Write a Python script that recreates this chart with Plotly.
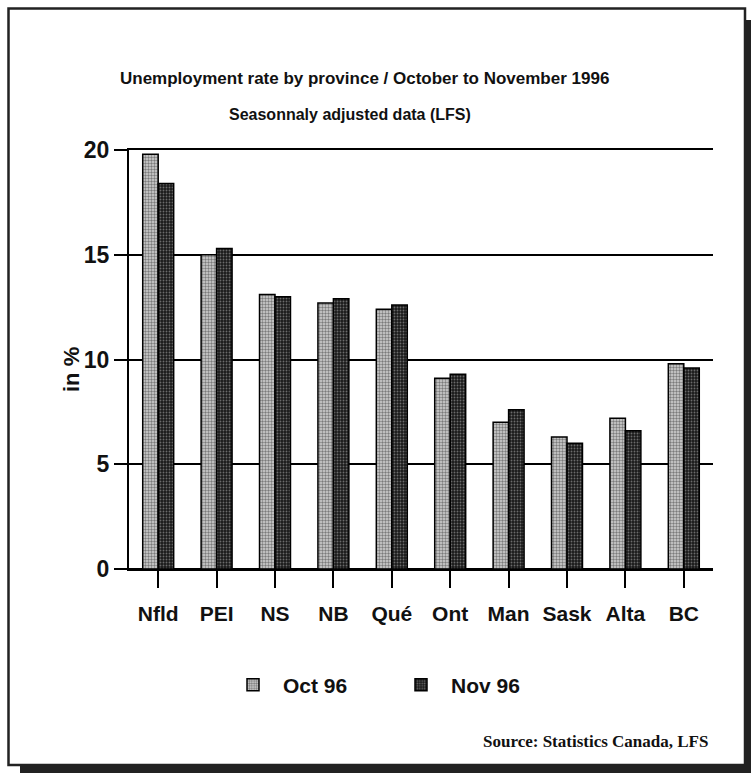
import plotly.graph_objects as go

provinces = ["Nfld", "PEI", "NS", "NB", "Qué", "Ont", "Man", "Sask", "Alta", "BC"]
oct96 = [19.8, 15.0, 13.1, 12.7, 12.4, 9.1, 7.0, 6.3, 7.2, 9.8]
nov96 = [18.4, 15.3, 13.0, 12.9, 12.6, 9.3, 7.6, 6.0, 6.6, 9.6]
y_ticks = [0, 5, 10, 15, 20]
series_names = ["Oct 96", "Nov 96"]

W, H = 751, 773
L, R, T, B = 129, 713, 150, 569
PW, PH = R - L, B - T


def px(x):
    return (x - L) / PW


def py(y):
    return (B - y) / PH


SANS = "Liberation Sans, Arial, sans-serif"
INK = "#111"

fig = go.Figure()
fig.add_trace(go.Bar(
    x=provinces, y=oct96, name=series_names[0],
    marker=dict(color="#999", line=dict(color="black", width=1.5),
                pattern=dict(shape=".", fgcolor="#222", bgcolor="#d4d4d4",
                             size=3, solidity=0.5)),
))
fig.add_trace(go.Bar(
    x=provinces, y=nov96, name=series_names[1],
    marker=dict(color="#333", line=dict(color="black", width=1.5),
                pattern=dict(shape=".", fgcolor="#bbb", bgcolor="#1a1a1a",
                             size=3, solidity=0.3)),
))

fig.update_layout(
    width=W, height=H,
    margin=dict(l=L, r=W - R, t=T, b=H - B, pad=0, autoexpand=False),
    paper_bgcolor="white", plot_bgcolor="white",
    barmode="group", bargap=0.47, bargroupgap=0.0,
    font=dict(family=SANS, color=INK),
    showlegend=True,
    legend=dict(orientation="h", x=px(223), y=py(685), xanchor="left", yanchor="middle",
                font=dict(family=SANS, size=21, color=INK, weight="bold"),
                itemwidth=50, tracegroupgap=0, bgcolor="rgba(0,0,0,0)",
                entrywidth=103),
)

fig.update_xaxes(
    showline=True, linecolor="black", linewidth=2, mirror=True,
    ticks="outside", ticklen=17, tickwidth=2, tickcolor="black",
    ticklabelstandoff=8,
    tickfont=dict(family=SANS, size=21, color=INK, weight="bold"),
    showgrid=False,
)
fig.update_yaxes(
    range=[0, 20], tickvals=y_ticks,
    showline=True, linecolor="black", linewidth=2,
    ticks="outside", ticklen=13, tickwidth=1.5, tickcolor="black",
    ticklabelstandoff=0,
    showgrid=True, gridcolor="black", gridwidth=1.5,
    zeroline=True, zerolinecolor="black", zerolinewidth=2,
    tickfont=dict(family=SANS, size=23, color=INK, weight="bold"),
)

annotations = [
    dict(text="Unemployment rate by province / October to November 1996",
         x=px(364), y=py(78), font=dict(family=SANS, size=17, color=INK, weight="bold")),
    dict(text="Seasonnaly adjusted data (LFS)",
         x=px(350), y=py(114), font=dict(family=SANS, size=16, color=INK, weight="bold")),
    dict(text="in %", x=px(71), y=py(370), textangle=-90,
         font=dict(family=SANS, size=22, color=INK, weight="bold")),
    dict(text="Source: Statistics Canada, LFS",
         x=px(710), y=py(741), xanchor="right",
         font=dict(family="Liberation Serif, Times New Roman, serif", size=17,
                   color=INK, weight="bold")),
]
for a in annotations:
    a.setdefault("xanchor", "center")
    a.update(xref="paper", yref="paper", yanchor="middle", showarrow=False)
fig.update_layout(annotations=annotations)

shapes = [
    dict(type="rect", x0=px(8.5), x1=px(745), y0=py(8.5), y1=py(765),
         line=dict(color="#222", width=2.5)),
    dict(type="rect", x0=px(745), x1=px(752), y0=py(20), y1=py(774),
         fillcolor="#222", line=dict(width=0)),
    dict(type="rect", x0=px(20), x1=px(752), y0=py(765), y1=py(774),
         fillcolor="#222", line=dict(width=0)),
]
for s in shapes:
    s.update(xref="paper", yref="paper", layer="above")
fig.update_layout(shapes=shapes)

fig.write_html(
    "out.html",
    config={"displayModeBar": False},
    post_script="document.body.style.margin='0';document.body.style.padding='0';",
)
